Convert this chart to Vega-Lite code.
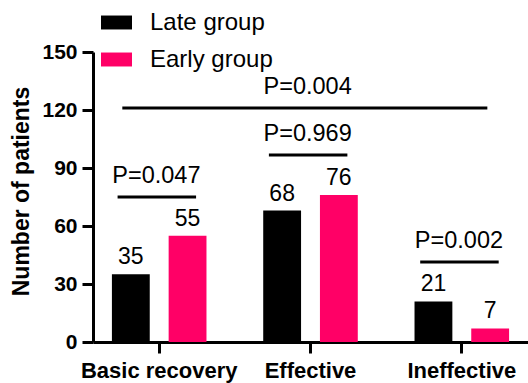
{
  "$schema": "https://vega.github.io/schema/vega-lite/v6.json",
  "width": 435,
  "height": 290,
  "autosize": {"type": "none"},
  "padding": {"left": 93, "top": 52, "right": 0, "bottom": 41},
  "background": "white",
  "config": {
    "view": {"stroke": null},
    "font": "Liberation Sans",
    "axis": {
      "domainColor": "black",
      "domainWidth": 3,
      "tickColor": "black",
      "tickWidth": 3,
      "tickSize": 11,
      "grid": false,
      "labelColor": "black",
      "titleColor": "black",
      "labelFont": "Liberation Sans",
      "titleFont": "Liberation Sans"
    }
  },
  "datasets": {
    "bars": [
      {"cat": "Basic recovery", "group": "Late group", "n": 35},
      {"cat": "Basic recovery", "group": "Early group", "n": 55},
      {"cat": "Effective", "group": "Late group", "n": 68},
      {"cat": "Effective", "group": "Early group", "n": 76},
      {"cat": "Ineffective", "group": "Late group", "n": 21},
      {"cat": "Ineffective", "group": "Early group", "n": 7}
    ],
    "pvals": [
      {"from": "Basic recovery", "to": "Basic recovery", "at": "Basic recovery", "y": 75, "label": "P=0.047", "kind": "pair"},
      {"from": "Effective", "to": "Effective", "at": "Effective", "y": 96.7, "label": "P=0.969", "kind": "pair"},
      {"from": "Ineffective", "to": "Ineffective", "at": "Ineffective", "y": 41.4, "label": "P=0.002", "kind": "pair"},
      {"from": "Basic recovery", "to": "Ineffective", "at": "Effective", "y": 121, "label": "P=0.004", "kind": "overall"}
    ]
  },
  "layer": [
    {
      "data": {"name": "bars"},
      "mark": {"type": "bar"},
      "encoding": {
        "x": {
          "field": "cat", "type": "nominal",
          "sort": ["Basic recovery", "Effective", "Ineffective"],
          "scale": {"paddingInner": 0.375, "paddingOuter": 0.125},
          "axis": {
            "title": null, "labelAngle": 0, "labelFontSize": 22, "labelFontWeight": "bold",
            "labelPadding": 7
          }
        },
        "xOffset": {
          "field": "group", "type": "nominal",
          "sort": ["Late group", "Early group"],
          "scale": {"paddingInner": 0.333, "paddingOuter": 0}
        },
        "y": {
          "field": "n", "type": "quantitative",
          "scale": {"domain": [0, 150], "nice": false},
          "axis": {
            "values": [0, 30, 60, 90, 120, 150],
            "title": "Number of patients",
            "titleFontSize": 23, "titleFontWeight": "bold",
            "titleX": -65, "titleY": 139, "titleBaseline": "alphabetic", "titleAngle": 270, "titleAlign": "center",
            "labelFontSize": 21, "labelFontWeight": "bold", "labelPadding": 5
          }
        },
        "color": {
          "field": "group", "type": "nominal",
          "scale": {"domain": ["Late group", "Early group"], "range": ["#000000", "#ff0066"]},
          "legend": {
            "title": null,
            "orient": "none",
            "legendX": 8,
            "legendY": -45,
            "symbolType": "M-1,-0.45H1V0.45H-1Z",
            "symbolSize": 961,
            "symbolStrokeWidth": 0,
            "symbolOpacity": 1,
            "labelFontSize": 24,
            "labelFont": "Liberation Sans",
            "labelColor": "black",
            "labelOffset": 18,
            "rowPadding": 9
          }
        }
      }
    },
    {
      "data": {"name": "bars"},
      "mark": {"type": "text", "baseline": "alphabetic", "dy": -10, "fontSize": 23, "color": "black"},
      "encoding": {
        "x": {"field": "cat", "type": "nominal", "sort": ["Basic recovery", "Effective", "Ineffective"]},
        "xOffset": {"field": "group", "type": "nominal", "sort": ["Late group", "Early group"]},
        "y": {"field": "n", "type": "quantitative"},
        "text": {"field": "n", "type": "quantitative"}
      }
    },
    {
      "data": {"name": "pvals"},
      "transform": [{"filter": "datum.kind === 'pair'"}],
      "mark": {"type": "rule", "strokeWidth": 3, "color": "black"},
      "encoding": {
        "x": {"field": "from", "type": "nominal", "bandPosition": 0.06, "sort": ["Basic recovery", "Effective", "Ineffective"]},
        "x2": {"field": "to", "bandPosition": 0.89},
        "y": {"field": "y", "type": "quantitative"}
      }
    },
    {
      "data": {"name": "pvals"},
      "transform": [{"filter": "datum.kind === 'overall'"}],
      "mark": {"type": "rule", "strokeWidth": 3, "color": "black"},
      "encoding": {
        "x": {"field": "from", "type": "nominal", "bandPosition": 0.11, "sort": ["Basic recovery", "Effective", "Ineffective"]},
        "x2": {"field": "to", "bandPosition": 0.77},
        "y": {"field": "y", "type": "quantitative"}
      }
    },
    {
      "data": {"name": "pvals"},
      "mark": {"type": "text", "baseline": "alphabetic", "dy": -14, "fontSize": 23.5, "color": "black"},
      "encoding": {
        "x": {"field": "at", "type": "nominal", "bandPosition": 0.47, "sort": ["Basic recovery", "Effective", "Ineffective"]},
        "y": {"field": "y", "type": "quantitative"},
        "text": {"field": "label", "type": "nominal"}
      }
    }
  ]
}
